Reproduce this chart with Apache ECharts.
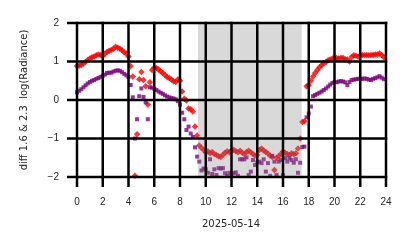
<!DOCTYPE html>
<html>
<head>
<meta charset="utf-8">
<script src="https://cdn.jsdelivr.net/npm/echarts@6/dist/echarts.min.js"></script>
<style>
html,body{margin:0;padding:0;background:#fff;}
#chart{width:414px;height:248px;}
</style>
</head>
<body>
<div id="chart"></div>
<script>
// Sampling: one value every 10 minutes, starting at 00:00 (hours of day)
const startHour = 0;
const stepMinutes = 10;

// diff 1.6 log(Radiance) (red diamonds)
const diff16 = [
  0.88, 0.89, 0.91, 0.95, 0.99, 1.04, 1.08, 1.11, 1.13, 1.16, 1.18, 1.17,
  1.14, 1.20, 1.25, 1.28, 1.30, 1.33, 1.38, 1.36, 1.33, 1.29, 1.24, 1.21,
  1.13, 0.88, 0.61, -1.97, -0.89, 0.54, 0.73, 0.52, 0.36, -0.12, 0.46, 0.78,
  0.84, 0.83, 0.79, 0.75, 0.70, 0.65, 0.60, 0.57, 0.53, 0.49, 0.47, 0.53,
  0.50, 0.22, 0.03, -0.01, -0.22, -0.24, -0.30, -0.69, -0.92, -1.18, -1.24, -1.30,
  -1.36, -1.33, -1.38, -1.35, -1.40, -1.43, -1.46, -1.48, -1.42, -1.37, -1.33, -1.36,
  -1.31, -1.29, -1.33, -1.36, -1.32, -1.37, -1.40, -1.35, -1.32, -1.36, -1.40, -1.44,
  -1.43, -1.30, -1.26, -1.31, -1.35, -1.39, -1.45, -1.48, -1.82, -1.50, -1.46, -1.40,
  -1.34, -1.37, -1.40, -1.43, -1.38, -1.41, -1.38, -1.26, -1.00, -0.57, -0.55, 0.36,
  0.38, 0.50, 0.61, 0.70, 0.78, 0.85, 0.90, 0.95, 0.99, 1.03, 1.05, 1.08,
  1.08, 1.09, 1.08, 1.10, 1.09, 1.06, 1.05, 1.00, 1.12, 1.16, 1.15, 1.13,
  1.15, 1.17, 1.16, 1.17, 1.16, 1.17, 1.17, 1.18, 1.18, 1.21, 1.17, 1.11
];

// diff 2.3 log(Radiance) (purple squares)
const diff23 = [
  0.20, 0.24, 0.28, 0.33, 0.38, 0.43, 0.47, 0.50, 0.52, 0.55, 0.57, 0.60,
  0.63, 0.66, 0.70, 0.71, 0.71, 0.74, 0.76, 0.77, 0.76, 0.72, 0.68, 0.64,
  0.60, 0.39, 0.07, -1.00, -0.50, 0.10, 0.30, 0.08, -0.06, -0.50, 0.33, 0.32,
  0.29, 0.26, 0.22, 0.19, 0.16, 0.12, 0.09, 0.07, 0.05, 0.04, 0.02, -0.03,
  -0.12, -0.33, -0.50, -0.78, -0.69, -0.87, -0.96, -1.23, -1.47, -1.60, -1.83, -1.78,
  -1.80, -1.89, -1.54, -1.92, -1.80, -1.95, -1.77, -1.78, -1.77, -1.90, -1.97, -1.89,
  -1.95, -1.90, -1.88, -1.97, -1.54, -1.54, -1.54, -1.49, -1.95, -1.86, -1.56, -1.69,
  -1.62, -1.60, -1.64, -1.54, -1.86, -1.64, -1.97, -1.45, -1.60, -1.95, -1.60, -1.56,
  -1.95, -1.51, -1.60, -1.51, -1.56, -1.63, -1.54, -1.89, -1.63, -1.22, -1.21, -0.45,
  -0.35, -0.17, 0.10, 0.13, 0.16, 0.19, 0.22, 0.26, 0.30, 0.35, 0.40, 0.44,
  0.47, 0.46, 0.48, 0.49, 0.48, 0.46, 0.39, 0.47, 0.52, 0.53, 0.54, 0.55,
  0.55, 0.55, 0.56, 0.55, 0.53, 0.52, 0.55, 0.57, 0.59, 0.62, 0.58, 0.54
];

// Night-time shaded span (hours)
const shadeSpan = [9.4, 17.45];
const xTicks = [0, 2, 4, 6, 8, 10, 12, 14, 16, 18, 20, 22, 24];
const yTicks = [-2, -1, 0, 1, 2];
const dateLabel = '2025-05-14';
const yName = 'diff 1.6 & 2.3  log(Radiance)';

const toPairs = vals => vals.map((v, i) => [startHour + i * stepMinutes / 60, v]);

const xMin = xTicks[0], xMax = xTicks[xTicks.length - 1];
const yMin = yTicks[0], yMax = yTicks[yTicks.length - 1];
const lineW = 2.5;   // grid line thickness (px)
const tickLen = 10;  // outward tick length (px)

const chart = echarts.init(document.getElementById('chart'));
chart.setOption({
  animation: false,
  grid: {left: 77, right: 28, top: 23, bottom: 71},
  graphic: [
    {
      type: 'text', x: 24, y: 100, rotation: Math.PI / 2, z: 100,
      style: {text: yName, fill: '#262626', font: '10px "DejaVu Sans"', align: 'center', verticalAlign: 'middle'}
    },
    {
      type: 'text', x: 231, y: 224, z: 100,
      style: {text: dateLabel, fill: '#262626', font: '10px "DejaVu Sans"', align: 'center', verticalAlign: 'middle'}
    }
  ],
  xAxis: {
    type: 'value', min: xMin, max: xMax, interval: 2,
    axisLine: {show: false},
    axisTick: {show: false},
    splitLine: {show: false},
    axisLabel: {color: '#262626', fontSize: 10, margin: 20}
  },
  yAxis: {
    type: 'value', min: yMin, max: yMax, interval: 1,
    axisLine: {show: false},
    axisTick: {show: false},
    splitLine: {show: false},
    axisLabel: {color: '#262626', fontSize: 10, margin: 18,
      formatter: v => v < 0 ? '\u2212' + Math.abs(v) : String(v)}
  },
  series: [
    {
      type: 'scatter', data: toPairs(diff16), z: 2,
      symbol: 'diamond', symbolSize: 6.5,
      itemStyle: {color: '#ff0000'}
    },
    {
      type: 'scatter', data: toPairs(diff23), z: 2,
      symbol: 'rect', symbolSize: 4,
      itemStyle: {color: '#800080'}
    },
    {
      // shaded span, drawn over the points like the reference
      type: 'custom', z: 3, silent: true, clip: false,
      data: [shadeSpan],
      encode: {x: [0, 1]},
      renderItem: (params, api) => {
        const p0 = api.coord([api.value(0), yMax]);
        const p1 = api.coord([api.value(1), yMin]);
        return {
          type: 'rect',
          shape: {x: p0[0], y: p0[1], width: p1[0] - p0[0], height: p1[1] - p0[1]},
          style: {fill: 'rgba(128,128,128,0.3)'}
        };
      }
    },
    {
      // vertical grid lines + outward x ticks, as filled bars
      type: 'custom', z: 4, silent: true, clip: false,
      data: xTicks.map(v => [v, yMin]),
      renderItem: (params, api) => {
        const top = api.coord([api.value(0), yMax]);
        const bot = api.coord([api.value(0), yMin]);
        return {
          type: 'rect',
          shape: {x: top[0] - lineW / 2, y: top[1] - lineW / 2, width: lineW, height: bot[1] - top[1] + lineW / 2 + tickLen},
          style: {fill: '#000'}
        };
      }
    },
    {
      // horizontal grid lines + outward y ticks, as filled bars
      type: 'custom', z: 4, silent: true, clip: false,
      data: yTicks.map(v => [xMin, v]),
      renderItem: (params, api) => {
        const left = api.coord([xMin, api.value(1)]);
        const right = api.coord([xMax, api.value(1)]);
        return {
          type: 'rect',
          shape: {x: left[0] - tickLen, y: left[1] - lineW / 2, width: right[0] - left[0] + tickLen + lineW / 2, height: lineW},
          style: {fill: '#000'}
        };
      }
    }
  ]
});
</script>
</body>
</html>
